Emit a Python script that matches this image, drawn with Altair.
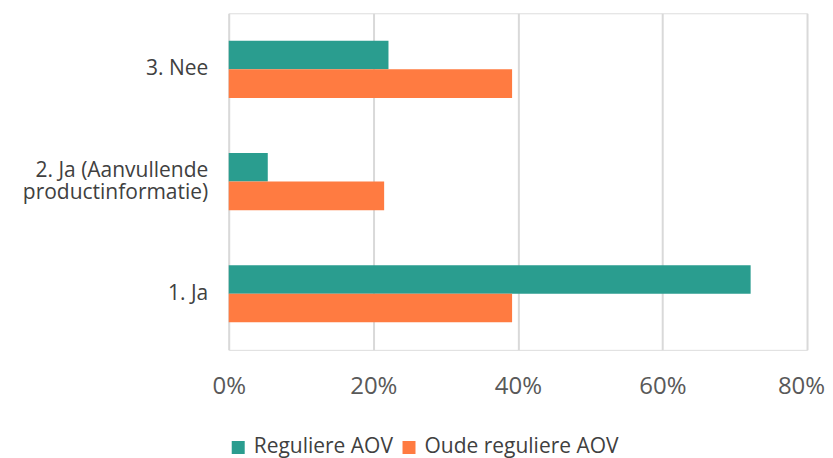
import altair as alt
import pandas as pd

categories = ["1. Ja", "2. Ja (Aanvullende|productinformatie)", "3. Nee"]
series = ["Reguliere AOV", "Oude reguliere AOV"]
regulier = [0.722, 0.054, 0.221]
oud = [0.392, 0.215, 0.392]
tick_values = [0, 0.2, 0.4, 0.6, 0.8]

rows = []
for c, a, b in zip(categories, regulier, oud):
    rows.append({"cat": c, "serie": series[0], "val": a})
    rows.append({"cat": c, "serie": series[1], "val": b})
df = pd.DataFrame(rows)

FONT = "Open Sans"

chart = alt.Chart(df).mark_bar().encode(
    y=alt.Y("cat:N", sort=categories[::-1], title=None,
            scale=alt.Scale(paddingInner=0.49, paddingOuter=0.245),
            axis=alt.Axis(labelExpr="split(datum.label, '|')", domain=False, ticks=False,
                          labelFontSize=21, labelColor="#404040", labelFont=FONT,
                          labelPadding=21, minExtent=221, maxExtent=221, labelLineHeight=22,
                          labelOffset=alt.condition("indexof(datum.value, '|') >= 0", alt.value(-11), alt.value(0)),
                          labelLimit=0)),
    yOffset=alt.YOffset("serie:N", sort=series),
    x=alt.X("val:Q", title=None,
            scale=alt.Scale(domain=[0, 0.8], nice=False),
            axis=alt.Axis(values=tick_values, format=".0%", domain=False, ticks=False,
                          labelFontSize=24, labelColor="#595959", labelFont=FONT,
                          labelFlush=False,
                          labelOffset=alt.condition("datum.value >= 0.8", alt.value(-6), alt.value(0)),
                          labelPadding=25, gridColor="#d9d9d9", gridWidth=2)),
    color=alt.Color("serie:N", sort=series,
                    scale=alt.Scale(domain=series, range=["#2A9D8F", "#FF7B41"]),
                    legend=alt.Legend(title=None, orient="none", legendX=-1, legendY=424,
                                      direction="horizontal", symbolType="square",
                                      symbolSize=169, symbolStrokeWidth=0, labelFontSize=21,
                                      labelFont=FONT, labelColor="#404040", columnPadding=5,
                                      labelOffset=5, symbolOpacity=1, labelLimit=400)),
).properties(
    width=579, height=337,
    padding={"left": 0, "top": 5, "right": 0, "bottom": 0},
).configure_view(stroke=None).configure(background="white")

chart.save("out.html", embed_options={"renderer": "svg", "actions": False})
